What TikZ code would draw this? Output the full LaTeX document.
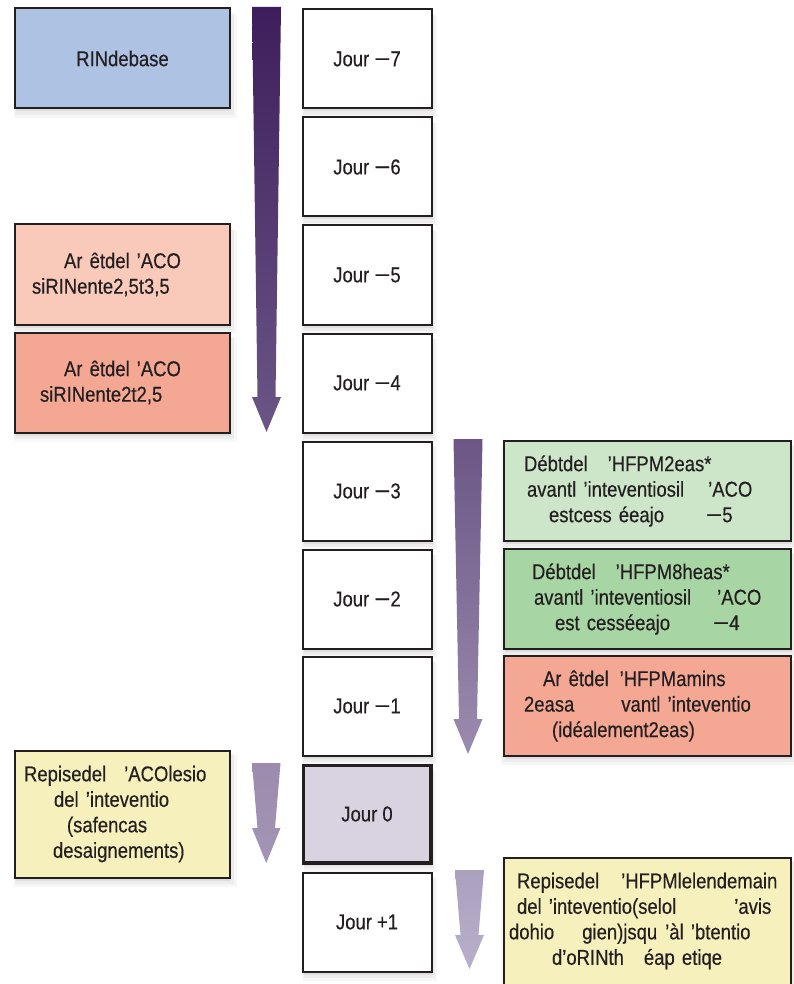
\documentclass[tikz,border=0pt]{standalone}
\usepackage{fontspec}
\usepackage{graphicx}
\setmainfont[FakeStretch=0.86,FakeBold=0.35]{Liberation Sans}
\usetikzlibrary{shadows}
\definecolor{boxline}{HTML}{231F20}
\definecolor{txt}{HTML}{231F20}
\definecolor{cblue}{HTML}{AEC3E3}
\definecolor{csalmonA}{HTML}{F9C9B9}
\definecolor{csalmonB}{HTML}{F4A894}
\definecolor{cgreenA}{HTML}{CDE6CA}
\definecolor{cgreenB}{HTML}{A7D5A3}
\definecolor{cyellow}{HTML}{F6F0BC}
\definecolor{cday}{HTML}{D9D2E0}
\definecolor{arA}{HTML}{3E1E5C}
\definecolor{arB}{HTML}{6B5686}
\definecolor{arC}{HTML}{9C8BAE}
\definecolor{arD}{HTML}{ABA1BF}
\definecolor{arE}{HTML}{B8AFCB}
\newcommand{\mns}{\hspace{5pt}\scalebox{1.5}[1]{−}}
\newcommand{\pls}{\hspace{5pt}+}
\tikzset{
  softshadow/.style={
    general shadow={fill=black,opacity=.06,shadow xshift=1pt,shadow yshift=-3pt},
    general shadow={fill=black,opacity=.04,shadow xshift=2pt,shadow yshift=-5pt,shadow scale=1.02},
    general shadow={fill=black,opacity=.03,shadow xshift=3pt,shadow yshift=-7pt,shadow scale=1.04}},
  basebox/.style={draw=boxline, line width=2pt, text=txt, inner xsep=0pt, inner ysep=2pt,
    font=\fontsize{21.5}{25.5}\selectfont, softshadow},
  daybox/.style={basebox, fill=white, minimum width=129pt, minimum height=99pt, align=center},
  leftbox/.style={basebox, minimum width=215pt, text width=215pt, align=left},
  rightbox/.style={basebox, minimum width=287pt, text width=287pt, align=left},
}
\begin{document}
\begin{tikzpicture}[x=1pt,y=-1pt]
\useasboundingbox (0,0) rectangle (794,984);
\fill[white] (0,0) rectangle (794,984);

% day column
\node[daybox] (j7) at (367,59) {Jour\mns7};
\node[daybox] (j6) at (367,167) {Jour\mns6};
\node[daybox] (j5) at (367,275) {Jour\mns5};
\node[daybox] (j4) at (367,383) {Jour\mns4};
\node[daybox] (j3) at (367,491) {Jour\mns3};
\node[daybox] (j2) at (367,599) {Jour\mns2};
\node[daybox] (j1) at (367,706) {Jour\mns1};
\node[daybox, fill=cday, line width=3.5pt, minimum width=127.5pt, minimum height=97.5pt] (j0) at (367,814) {Jour 0};
\node[daybox] (jp1) at (367,922) {Jour\pls1};

% left boxes
\node[leftbox, fill=cblue, minimum height=100pt, align=center] (rin) at (122.5,58.5) {RINdebase};
\node[leftbox, fill=csalmonA, minimum height=100pt] (ar1) at (122.5,274.5)
  {\hspace*{49pt}Ar êtdel\hspace{7pt}’ACO\\\hspace*{17pt}siRINente2,5t3,5};
\node[leftbox, fill=csalmonB, minimum height=100pt] (ar2) at (122.5,382.5)
  {\hspace*{49pt}Ar êtdel\hspace{7pt}’ACO\\\hspace*{25pt}siRINente2t2,5};
\node[leftbox, fill=cyellow, minimum height=127pt] (rep1) at (122.5,814)
  {\hspace*{9pt}Repisedel\hspace{18pt}’ACOlesio\\\hspace*{39pt}del ’inteventio\\\hspace*{52pt}(safencas\\\hspace*{38pt}desaignements)};

% right boxes
\node[rightbox, fill=cgreenA, minimum height=100pt] (hf1) at (647.5,491)
  {\hspace*{20pt}Débtdel\hspace{20pt}’HFPM2eas*\\\hspace*{23pt}avantl ’inteventiosil\hspace{24pt}’ACO\\\hspace*{45pt}estcess éeajo\hspace{42pt}\scalebox{1.5}[1]{−}5};
\node[rightbox, fill=cgreenB, minimum height=100pt] (hf2) at (647.5,599)
  {\hspace*{28pt}Débtdel\hspace{20pt}’HFPM8heas*\\\hspace*{30pt}avantl ’inteventiosil\hspace{26pt}’ACO\\\hspace*{51pt}est cesséeajo\hspace{43pt}\scalebox{1.5}[1]{−}4};
\node[rightbox, fill=csalmonB, minimum height=100pt] (hf3) at (647.5,706)
  {\hspace*{39pt}Ar êtdel\hspace{11pt}’HFPMamins\\\hspace*{20pt}2easa\hspace{47pt}vantl ’inteventio\\\hspace*{48pt}(idéalement2eas)};
\node[rightbox, fill=cyellow, minimum height=127pt] (rep2) at (647.5,921)
  {\hspace*{13pt}Repisedel\hspace{22pt}’HFPMlelendemain\\\hspace*{13pt}del ’inteventio(selol\hspace{58pt}’avis\\\hspace*{5pt}dohio\hspace{28pt}gien)jsqu\hspace{8pt}’àl ’btentio\\\hspace*{48pt}d’oRINth\hspace{20pt}éap etiqe};

% arrows
\shade[top color=arA, bottom color=arB]
  (252,7) -- (281,7) -- (275.5,397) -- (281,397) -- (266.5,432) -- (252,397) -- (257.5,397) -- cycle;
\shade[top color=arB, bottom color=arC]
  (453.5,439) -- (482.5,439) -- (477,719) -- (482.5,719) -- (468,754) -- (453.5,719) -- (459,719) -- cycle;
\shade[top color=arC, bottom color=arC!92!white]
  (252,763) -- (280.5,763) -- (275,828) -- (280.5,828) -- (266.25,863) -- (252,828) -- (257.5,828) -- cycle;
\shade[top color=arD, bottom color=arE]
  (455,870) -- (484,870) -- (478.5,935) -- (484,935) -- (469.5,969) -- (455,935) -- (460.5,935) -- cycle;
\end{tikzpicture}
\end{document}
